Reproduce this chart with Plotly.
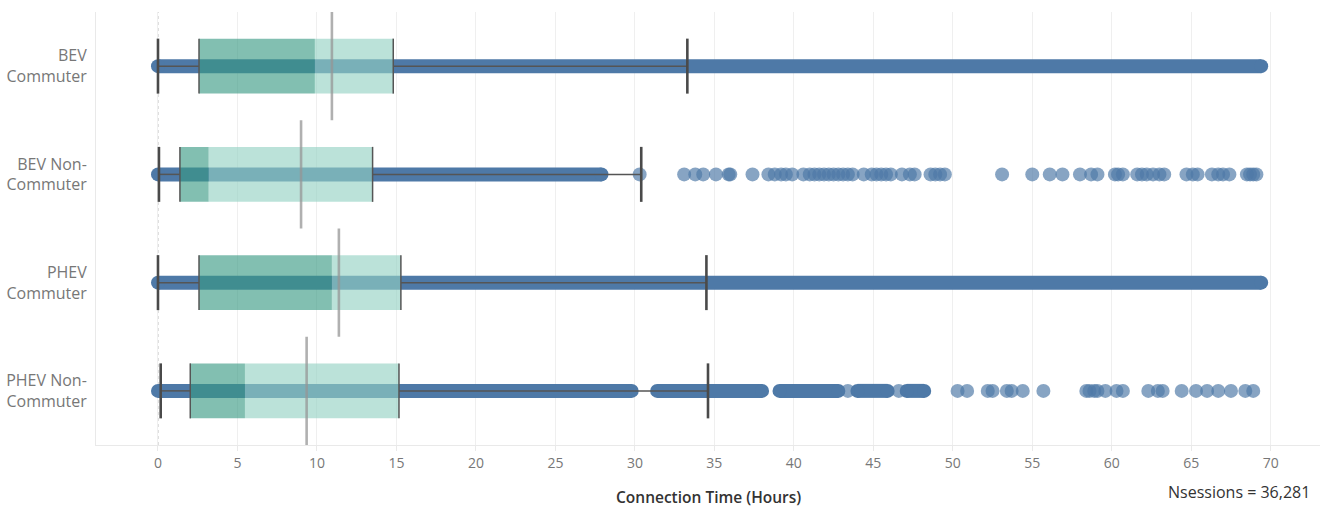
import plotly.graph_objects as go

# ---------------- data ----------------
categories = ["BEV Commuter", "BEV Non-Commuter", "PHEV Commuter", "PHEV Non-Commuter"]
tick_labels = ["BEV<br>Commuter", "BEV Non-<br>Commuter", "PHEV<br>Commuter", "PHEV Non-<br>Commuter"]

whisker_low = [0.0, 0.06, 0.0, 0.17]
q1 = [2.58, 1.38, 2.58, 2.03]
median = [9.87, 3.19, 10.94, 5.47]
q3 = [14.8, 13.5, 15.28, 15.16]
whisker_high = [33.3, 30.4, 34.5, 34.6]
mean = [10.94, 9.0, 11.38, 9.35]

# stretches where the session dots overlap into a continuous band
dense_ranges = [
    [[0.0, 69.4]],
    [[0.0, 27.9]],
    [[0.0, 69.4]],
    [[0.0, 29.8], [31.4, 38.0], [39.1, 42.8], [44.0, 45.9], [47.1, 48.2]],
]

# individual (sparse) session dots
sparse_points = [
    [],
    [30.3, 33.1, 33.8, 34.3, 35.1, 35.9, 36.0, 37.4, 38.4, 38.8, 39.2, 39.5, 39.9,
     40.6, 41.0, 41.3, 41.6, 41.9, 42.2, 42.5, 42.8, 43.1, 43.4, 43.7, 44.4, 44.9,
     45.2, 45.5, 45.8, 46.1, 46.8, 47.3, 47.6, 48.6, 48.9, 49.2, 49.5, 53.1, 55.0,
     56.1, 56.9, 58.0, 58.7, 59.1, 60.2, 60.4, 60.7, 61.6, 61.9, 62.2, 62.6, 63.0,
     63.3, 64.7, 65.1, 65.4, 66.3, 66.7, 67.0, 67.4, 68.5, 68.7, 68.9, 69.1],
    [],
    [43.4, 46.6, 50.3, 50.9, 52.2, 52.5, 53.4, 53.7, 54.4, 55.7, 58.4, 58.6, 58.9,
     59.1, 59.6, 60.3, 60.7, 62.3, 62.9, 63.2, 64.4, 65.3, 66.0, 66.7, 67.5, 68.4,
     68.9],
]

x_ticks = [0, 5, 10, 15, 20, 25, 30, 35, 40, 45, 50, 55, 60, 65, 70]
x_title = "Connection Time (Hours)"
n_sessions = "36,281"

# ---------------- styles ----------------
DOT = "#4e79a7"
DOT_A = "rgba(78,121,167,0.68)"
BOX_DARK = "rgba(57,153,131,0.63)"
BOX_LIGHT = "rgba(147,209,195,0.63)"
EDGE = "#555555"
MEAN_C = "rgba(150,150,150,0.75)"
BOX_H = 0.254
MEAN_H = 0.5
DOT_PX = 14
FONT = "Open Sans"

fig = go.Figure()

# dense bands
for i, ranges in enumerate(dense_ranges):
    xs, ys = [], []
    ex, ey = [], []
    for a, b in ranges:
        xs += [a, b, None]
        ys += [i, i, None]
        ex += [a, b]
        ey += [i, i]
    fig.add_trace(go.Scatter(x=xs, y=ys, mode="lines",
                             line=dict(color=DOT, width=DOT_PX), hoverinfo="skip",
                             showlegend=False))
    fig.add_trace(go.Scatter(x=ex, y=ey, mode="markers",
                             marker=dict(color=DOT, size=DOT_PX, line=dict(width=0)),
                             hoverinfo="skip", showlegend=False))

# sparse dots
for i, pts in enumerate(sparse_points):
    if pts:
        fig.add_trace(go.Scatter(x=pts, y=[i] * len(pts), mode="markers",
                                 marker=dict(color=DOT_A, size=DOT_PX, line=dict(width=0)),
                                 hoverinfo="skip", showlegend=False))

# thin whisker lines (outside the box)
wx, wy = [], []
for i in range(len(categories)):
    wx += [whisker_low[i], q1[i], None, q3[i], whisker_high[i], None]
    wy += [i, i, None, i, i, None]
fig.add_trace(go.Scatter(x=wx, y=wy, mode="lines", line=dict(color=EDGE, width=1.5),
                         hoverinfo="skip", showlegend=False))

# boxes
for i in range(len(categories)):
    for a, b, col in [(q1[i], median[i], BOX_DARK), (median[i], q3[i], BOX_LIGHT)]:
        fig.add_trace(go.Scatter(
            x=[a, b, b, a, a], y=[i - BOX_H, i - BOX_H, i + BOX_H, i + BOX_H, i - BOX_H],
            mode="lines", fill="toself", fillcolor=col, line=dict(width=0),
            hoverinfo="skip", showlegend=False))

# box edges at q1 / q3
bx, by = [], []
for i in range(len(categories)):
    for v in (q1[i], q3[i]):
        bx += [v, v, None]
        by += [i - BOX_H, i + BOX_H, None]
fig.add_trace(go.Scatter(x=bx, y=by, mode="lines", line=dict(color=EDGE, width=1.5),
                         hoverinfo="skip", showlegend=False))

# whisker caps
cx, cy = [], []
for i in range(len(categories)):
    for v in (whisker_low[i], whisker_high[i]):
        cx += [v, v, None]
        cy += [i - BOX_H, i + BOX_H, None]
fig.add_trace(go.Scatter(x=cx, y=cy, mode="lines", line=dict(color="#4a4a4a", width=2.6),
                         hoverinfo="skip", showlegend=False))

# mean lines
mx, my = [], []
for i in range(len(categories)):
    mx += [mean[i], mean[i], None]
    my += [i - MEAN_H, i + MEAN_H, None]
fig.add_trace(go.Scatter(x=mx, y=my, mode="lines", line=dict(color=MEAN_C, width=2.6),
                         hoverinfo="skip", showlegend=False))

# dotted zero line
fig.add_shape(type="line", xref="x", yref="paper", x0=0, x1=0, y0=0, y1=1,
              line=dict(color="#bdbdbd", width=1, dash="dot"), layer="below")

fig.update_layout(
    width=1327, height=510,
    margin=dict(l=96, r=7, t=12, b=65),
    paper_bgcolor="white", plot_bgcolor="white",
    font=dict(family=FONT, color="#777777"),
    xaxis=dict(range=[-3.9, 73.1], tickvals=x_ticks, ticktext=[str(t) for t in x_ticks],
               showgrid=True, gridcolor="#efefef", gridwidth=1, zeroline=False,
               showline=True, linecolor="#e9e9e9", linewidth=1, automargin=False,
               ticks="outside", ticklen=5, tickcolor="#e9e9e9",
               tickfont=dict(size=14, color="#777777", family=FONT)),
    yaxis=dict(range=[3.5, -0.5], tickvals=list(range(len(categories))), ticktext=tick_labels,
               showgrid=False, zeroline=False, showline=True, linecolor="#e9e9e9",
               automargin=False,
               ticks="outside", ticklen=5, tickcolor="rgba(0,0,0,0)",
               tickfont=dict(size=16, color="#777777", family=FONT)),
    annotations=[
        dict(text=x_title, xref="paper", yref="paper", x=0.5, y=-0.12,
             xanchor="center", yanchor="middle", showarrow=False,
             font=dict(size=15.5, color="#333333", family=FONT, weight=600)),
        dict(text="Nsessions = " + n_sessions, xref="paper", yref="paper", x=0.9935, y=-0.1085,
             xanchor="right", yanchor="middle", showarrow=False,
             font=dict(size=16, color="#333333", family=FONT)),
    ],
)

fig.write_html("out.html", config={"displayModeBar": False},
               post_script="document.body.style.margin='0';document.body.style.overflow='hidden';")
